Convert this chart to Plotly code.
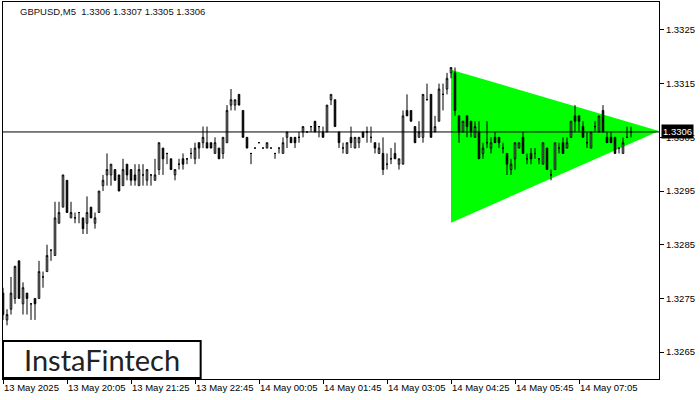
import plotly.graph_objects as go

# ---- data (GBPUSD, M5) ----
opens = [1.3276,1.3271,1.3273,1.3275,1.3282,1.3274,1.3276,1.3274,1.3275,1.3275,
         1.3279,1.3280,1.3284,1.3283,1.3289,1.3292,1.3297,1.3290,1.3290,1.3291,
         1.3290,1.3289,1.3292,1.3289,1.3291,1.3296,1.3298,1.3298,1.3299,1.3298,
         1.3296,1.3300,1.3299,1.3298,1.3296,1.3298,1.3297,1.3298,1.3297,1.3299,
         1.3303,1.3302,1.3301,1.3298,1.3300,1.3301,1.3301,1.3302,1.3301,1.3304,
         1.3304,1.3304,1.3304,1.3302,1.3303,1.3302,1.3304,1.3311,1.3311,1.3313,
         1.3310,1.3305,1.3302,1.3303,1.3304,1.3303,1.3303,1.3303,1.3302,1.3303,
         1.3302,1.3305,1.3305,1.3305,1.3305,1.3306,1.3306,1.3307,1.3308,1.3307,
         1.3306,1.3306,1.3312,1.3312,1.3306,1.3303,1.3302,1.3305,1.3303,1.3304,
         1.3306,1.3306,1.3305,1.3304,1.3302,1.3302,1.3300,1.3301,1.3302,1.3300,
         1.3300,1.3310,1.3310,1.3307,1.3305,1.3305,1.3312,1.3313,1.3306,1.3308,
         1.3313,1.3314,1.3317,1.3317,1.3309,1.3306,1.3309,1.3308,1.3305,1.3306,
         1.3302,1.3304,1.3303,1.3305,1.3305,1.3303,1.3302,1.3299,1.3301,1.3303,
         1.3305,1.3301,1.3302,1.3302,1.3301,1.3300,1.3303,1.3298,1.3299,1.3303,
         1.3304,1.3303,1.3305,1.3309,1.3309,1.3307,1.3304,1.3303,1.3307,1.3306,
         1.3310,1.3305,1.3305,1.3305,1.3303,1.3302,1.3305,1.3306]
highs = [1.3277,1.3273,1.3279,1.3281,1.3282,1.3278,1.3276,1.3274,1.3275,1.3282,
         1.3280,1.3285,1.3284,1.3293,1.3293,1.3298,1.3297,1.3293,1.3291,1.3291,
         1.3290,1.3294,1.3292,1.3291,1.3295,1.3298,1.3302,1.3300,1.3299,1.3298,
         1.3301,1.3300,1.3299,1.3300,1.3300,1.3300,1.3299,1.3298,1.3301,1.3304,
         1.3303,1.3302,1.3301,1.3299,1.3301,1.3302,1.3301,1.3303,1.3304,1.3304,
         1.3307,1.3307,1.3304,1.3305,1.3303,1.3305,1.3311,1.3314,1.3312,1.3313,
         1.3310,1.3305,1.3302,1.3303,1.3304,1.3303,1.3304,1.3303,1.3302,1.3303,
         1.3305,1.3306,1.3305,1.3305,1.3306,1.3307,1.3306,1.3307,1.3308,1.3307,
         1.3307,1.3311,1.3313,1.3312,1.3306,1.3304,1.3304,1.3307,1.3305,1.3305,
         1.3306,1.3307,1.3307,1.3304,1.3304,1.3305,1.3302,1.3303,1.3304,1.3301,
         1.3310,1.3313,1.3310,1.3307,1.3308,1.3313,1.3315,1.3313,1.3309,1.3315,
         1.3315,1.3317,1.3318,1.3318,1.3309,1.3308,1.3309,1.3308,1.3308,1.3308,
         1.3304,1.3308,1.3305,1.3306,1.3305,1.3304,1.3302,1.3301,1.3304,1.3304,
         1.3306,1.3302,1.3303,1.3303,1.3301,1.3304,1.3303,1.3299,1.3304,1.3304,
         1.3305,1.3305,1.3308,1.3311,1.3309,1.3308,1.3306,1.3306,1.3308,1.3309,
         1.3311,1.3306,1.3306,1.3305,1.3303,1.3305,1.3307,1.3307]
lows = [1.3271,1.3270,1.3272,1.3274,1.3275,1.3272,1.3272,1.3271,1.3271,1.3275,
        1.3277,1.3280,1.3282,1.3283,1.3289,1.3292,1.3291,1.3290,1.3289,1.3289,
        1.3287,1.3287,1.3290,1.3288,1.3291,1.3295,1.3296,1.3296,1.3297,1.3295,
        1.3296,1.3297,1.3296,1.3296,1.3296,1.3296,1.3296,1.3296,1.3297,1.3298,
        1.3298,1.3300,1.3299,1.3297,1.3299,1.3299,1.3300,1.3301,1.3300,1.3301,
        1.3303,1.3303,1.3303,1.3302,1.3301,1.3301,1.3304,1.3310,1.3310,1.3311,
        1.3305,1.3303,1.3300,1.3303,1.3304,1.3303,1.3303,1.3303,1.3301,1.3302,
        1.3302,1.3303,1.3304,1.3303,1.3304,1.3305,1.3306,1.3306,1.3306,1.3305,
        1.3305,1.3306,1.3311,1.3307,1.3303,1.3302,1.3302,1.3303,1.3303,1.3303,
        1.3305,1.3304,1.3304,1.3302,1.3302,1.3298,1.3299,1.3300,1.3301,1.3299,
        1.3300,1.3309,1.3308,1.3304,1.3305,1.3304,1.3312,1.3305,1.3306,1.3308,
        1.3310,1.3313,1.3316,1.3309,1.3304,1.3306,1.3305,1.3305,1.3305,1.3301,
        1.3301,1.3303,1.3302,1.3304,1.3303,1.3302,1.3298,1.3298,1.3299,1.3303,
        1.3302,1.3300,1.3300,1.3301,1.3300,1.3300,1.3299,1.3297,1.3299,1.3302,
        1.3302,1.3303,1.3305,1.3306,1.3306,1.3305,1.3303,1.3303,1.3306,1.3306,
        1.3306,1.3304,1.3304,1.3302,1.3302,1.3302,1.3305,1.3305]
closes = [1.3272,1.3272,1.3276,1.3281,1.3275,1.3277,1.3275,1.3274,1.3274,1.3280,
          1.3279,1.3283,1.3284,1.3290,1.3291,1.3298,1.3291,1.3291,1.3290,1.3291,
          1.3288,1.3291,1.3290,1.3290,1.3295,1.3297,1.3299,1.3300,1.3297,1.3295,
          1.3299,1.3298,1.3297,1.3297,1.3299,1.3298,1.3299,1.3298,1.3298,1.3304,
          1.3301,1.3302,1.3299,1.3299,1.3300,1.3300,1.3301,1.3302,1.3303,1.3303,
          1.3305,1.3303,1.3303,1.3304,1.3301,1.3305,1.3310,1.3312,1.3312,1.3311,
          1.3305,1.3303,1.3302,1.3303,1.3304,1.3303,1.3304,1.3303,1.3302,1.3303,
          1.3304,1.3306,1.3304,1.3304,1.3305,1.3307,1.3306,1.3307,1.3306,1.3307,
          1.3305,1.3311,1.3313,1.3307,1.3304,1.3303,1.3304,1.3304,1.3305,1.3305,
          1.3305,1.3306,1.3305,1.3303,1.3303,1.3299,1.3300,1.3301,1.3301,1.3301,
          1.3309,1.3309,1.3308,1.3304,1.3306,1.3313,1.3312,1.3305,1.3307,1.3314,
          1.3313,1.3316,1.3318,1.3310,1.3306,1.3308,1.3307,1.3306,1.3307,1.3301,
          1.3303,1.3304,1.3304,1.3304,1.3304,1.3303,1.3300,1.3300,1.3304,1.3304,
          1.3302,1.3301,1.3301,1.3302,1.3301,1.3304,1.3299,1.3298,1.3304,1.3303,
          1.3302,1.3304,1.3308,1.3308,1.3308,1.3305,1.3304,1.3306,1.3307,1.3309,
          1.3306,1.3304,1.3304,1.3302,1.3303,1.3304,1.3305,1.3306]
bar_index = list(range(len(opens)))

tick_bars = [0, 16, 32, 48, 64, 80, 96, 112, 128, 144]
tick_labels = ["13 May 2025", "13 May 20:05", "13 May 21:25", "13 May 22:45",
               "14 May 00:05", "14 May 01:45", "14 May 03:05", "14 May 04:25",
               "14 May 05:45", "14 May 07:05"]
price_ticks = [1.3265, 1.3275, 1.3285, 1.3295, 1.3305, 1.3315, 1.3325]
price_tick_labels = ["1.3265", "1.3275", "1.3285", "1.3295", "1.3305", "1.3315", "1.3325"]

# symmetrical triangle pattern (bar index, price)
triangle_bars = [112, 164, 112]
triangle_prices = [1.33176, 1.33062, 1.32891]

symbol_title = "GBPUSD,M5  1.3306 1.3307 1.3305 1.3306"
last_price = 1.3306
last_price_label = "1.3306"
brand = "InstaFintech"

FONT = "Liberation Sans"

fig = go.Figure()
fig.add_trace(go.Candlestick(
    x=bar_index, open=opens, high=highs, low=lows, close=closes,
    increasing=dict(line=dict(color="black", width=1), fillcolor="white"),
    decreasing=dict(line=dict(color="black", width=1), fillcolor="black"),
    whiskerwidth=0, showlegend=False, hoverinfo="skip"))

# triangle as a shape beneath the candles
tri_path = "M {} {} L {} {} L {} {} Z".format(
    triangle_bars[0], triangle_prices[0], triangle_bars[1], triangle_prices[1],
    triangle_bars[2], triangle_prices[2])
fig.add_shape(type="path", xref="x", yref="y", path=tri_path,
              fillcolor="#00FF00", line=dict(width=0), layer="below")

fig.update_layout(
    width=700, height=400,
    margin=dict(l=3, r=41, t=2, b=21, autoexpand=False),
    paper_bgcolor="white", plot_bgcolor="white",
    font=dict(family=FONT, size=9.5, color="black"),
    showlegend=False,
    boxgap=0.45,
    xaxis=dict(range=[0, 164], rangeslider=dict(visible=False),
               tickmode="array", tickvals=tick_bars, ticktext=tick_labels,
               ticks="outside", ticklen=4, tickcolor="black", tickangle=0,
               ticklabelposition="outside right", automargin=False,
               showgrid=False, zeroline=False, showline=True, linecolor="black",
               linewidth=1, mirror=True, fixedrange=True),
    yaxis=dict(range=[1.32600, 1.33302], side="right",
               tickmode="array", tickvals=price_ticks, ticktext=price_tick_labels,
               ticks="outside", ticklen=4, tickcolor="black", automargin=False,
               showgrid=False, zeroline=False, showline=True, linecolor="black",
               linewidth=1, mirror=True, fixedrange=True),
)

fig.add_shape(type="line", xref="paper", x0=0, x1=1, yref="y", y0=last_price, y1=last_price,
              line=dict(color="black", width=1), layer="above")

fig.add_annotation(xref="paper", yref="paper", x=0.0229, y=0.976, xanchor="left", yanchor="middle",
                   text=symbol_title, showarrow=False, font=dict(family=FONT, size=9.5, color="#111111"))

fig.add_annotation(xref="paper", yref="y", x=1, y=last_price, xanchor="left", yanchor="middle",
                   xshift=2, text=last_price_label, showarrow=False, bgcolor="black",
                   borderpad=1, font=dict(family=FONT, size=9.5, color="white"))

# logo box
fig.add_shape(type="rect", xref="paper", yref="paper", x0=0.0, x1=0.3013, y0=0.0027, y1=0.1008,
              line=dict(color="black", width=2), fillcolor="white", layer="above")
fig.add_annotation(xref="paper", yref="paper", x=0.1509, y=0.051, xanchor="center", yanchor="middle",
                   text=brand, showarrow=False, font=dict(family="Lato", size=29, color="#222222"))

fig.write_html("out.html", config={"displayModeBar": False},
               post_script="document.body.style.margin='0';")
